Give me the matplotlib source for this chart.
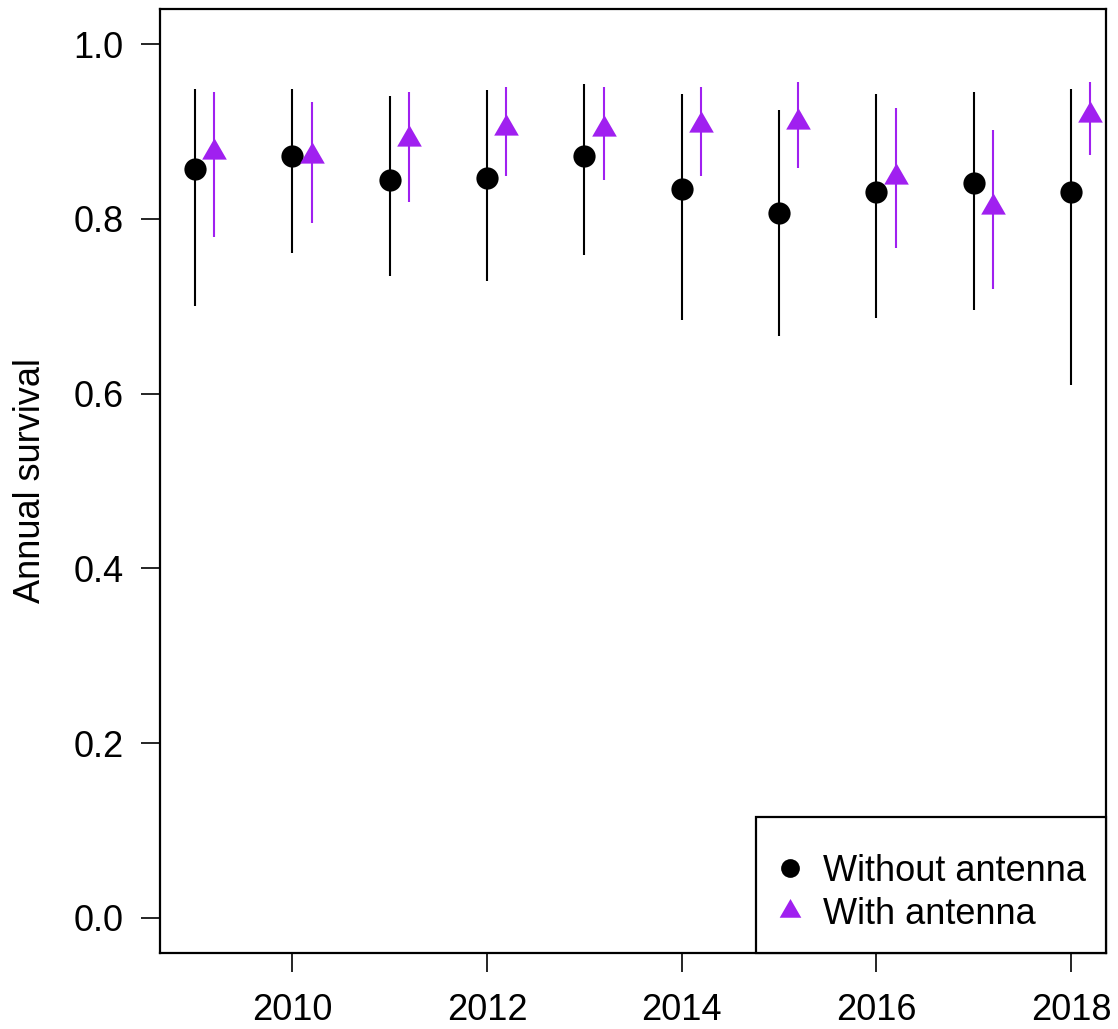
# import libraries
import numpy as np
import matplotlib.pyplot as plt
from matplotlib.lines import Line2D
from matplotlib.patches import Rectangle

plt.rcParams['font.family'] = ['Liberation Sans', 'DejaVu Sans']

# Data
years = np.arange(2009, 2019)
without_est = [0.857, 0.872, 0.844, 0.847, 0.872, 0.834, 0.807, 0.831, 0.841, 0.831]
without_lo = [0.700, 0.761, 0.734, 0.729, 0.759, 0.684, 0.666, 0.686, 0.696, 0.610]
without_hi = [0.949, 0.949, 0.940, 0.947, 0.954, 0.943, 0.925, 0.943, 0.945, 0.949]
with_est = [0.877, 0.872, 0.891, 0.904, 0.903, 0.907, 0.911, 0.848, 0.814, 0.919]
with_lo = [0.779, 0.795, 0.819, 0.849, 0.844, 0.849, 0.858, 0.767, 0.720, 0.873]
with_hi = [0.945, 0.934, 0.945, 0.951, 0.951, 0.951, 0.956, 0.927, 0.902, 0.956]
x_ticks = [2010, 2012, 2014, 2016, 2018]
y_ticks = [0.0, 0.2, 0.4, 0.6, 0.8, 1.0]

purple = '#A020F0'
# R style triangle (pch 17), centred on circumcentre
tri = [(0, 1), (-0.866, -0.5), (0.866, -0.5), (0, 1)]

fig = plt.figure(figsize=(11.18, 10.29), dpi=100)
ax = fig.add_axes([0.1431, 0.0739, 0.9893 - 0.1431, 0.9912 - 0.0739])

xw = years + 0.2
ax.vlines(years, without_lo, without_hi, color='black', lw=1.5, zorder=2)
ax.plot(years, without_est, 'o', color='black', ms=16, mew=0, zorder=3)
ax.vlines(xw, with_lo, with_hi, color=purple, lw=1.5, zorder=4)
ax.plot(xw, with_est, marker=tri, ls='none', color=purple, ms=20.5, mew=0, zorder=5)

ax.set_xlim(2008.64, 2018.36)
ax.set_ylim(-0.04, 1.04)
ax.set_xticks(x_ticks)
ax.set_yticks(y_ticks)
ax.set_yticklabels(['%.1f' % v for v in y_ticks])
ax.tick_params(labelsize=26, length=14, width=1.2, pad=12, direction='out')
ax.tick_params(axis='x', pad=15)
for s in ax.spines.values():
    s.set_linewidth(1.6)

ax.set_ylabel('Annual survival', fontsize=26)
ax.yaxis.set_label_coords(-0.118, 0.5)

# legend box (R style, sitting in the lower right corner)
ax.add_patch(Rectangle((0.630, 0), 0.370, 0.144, transform=ax.transAxes,
                       facecolor='white', edgecolor='black', lw=1.6,
                       zorder=6, clip_on=False))
handles = [Line2D([], [], marker='o', ls='none', color='black', ms=13.5, mew=0),
           Line2D([], [], marker=tri, ls='none', color=purple, ms=18, mew=0)]
leg = ax.legend(handles, ['Without antenna', 'With antenna'], loc='center left',
                bbox_to_anchor=(0.654, 0.064), borderaxespad=0, borderpad=0,
                fontsize=26, frameon=False, handlelength=0.6,
                handletextpad=0.62, labelspacing=0.22)
leg.set_zorder(7)

fig.savefig('out.png', dpi=100)
